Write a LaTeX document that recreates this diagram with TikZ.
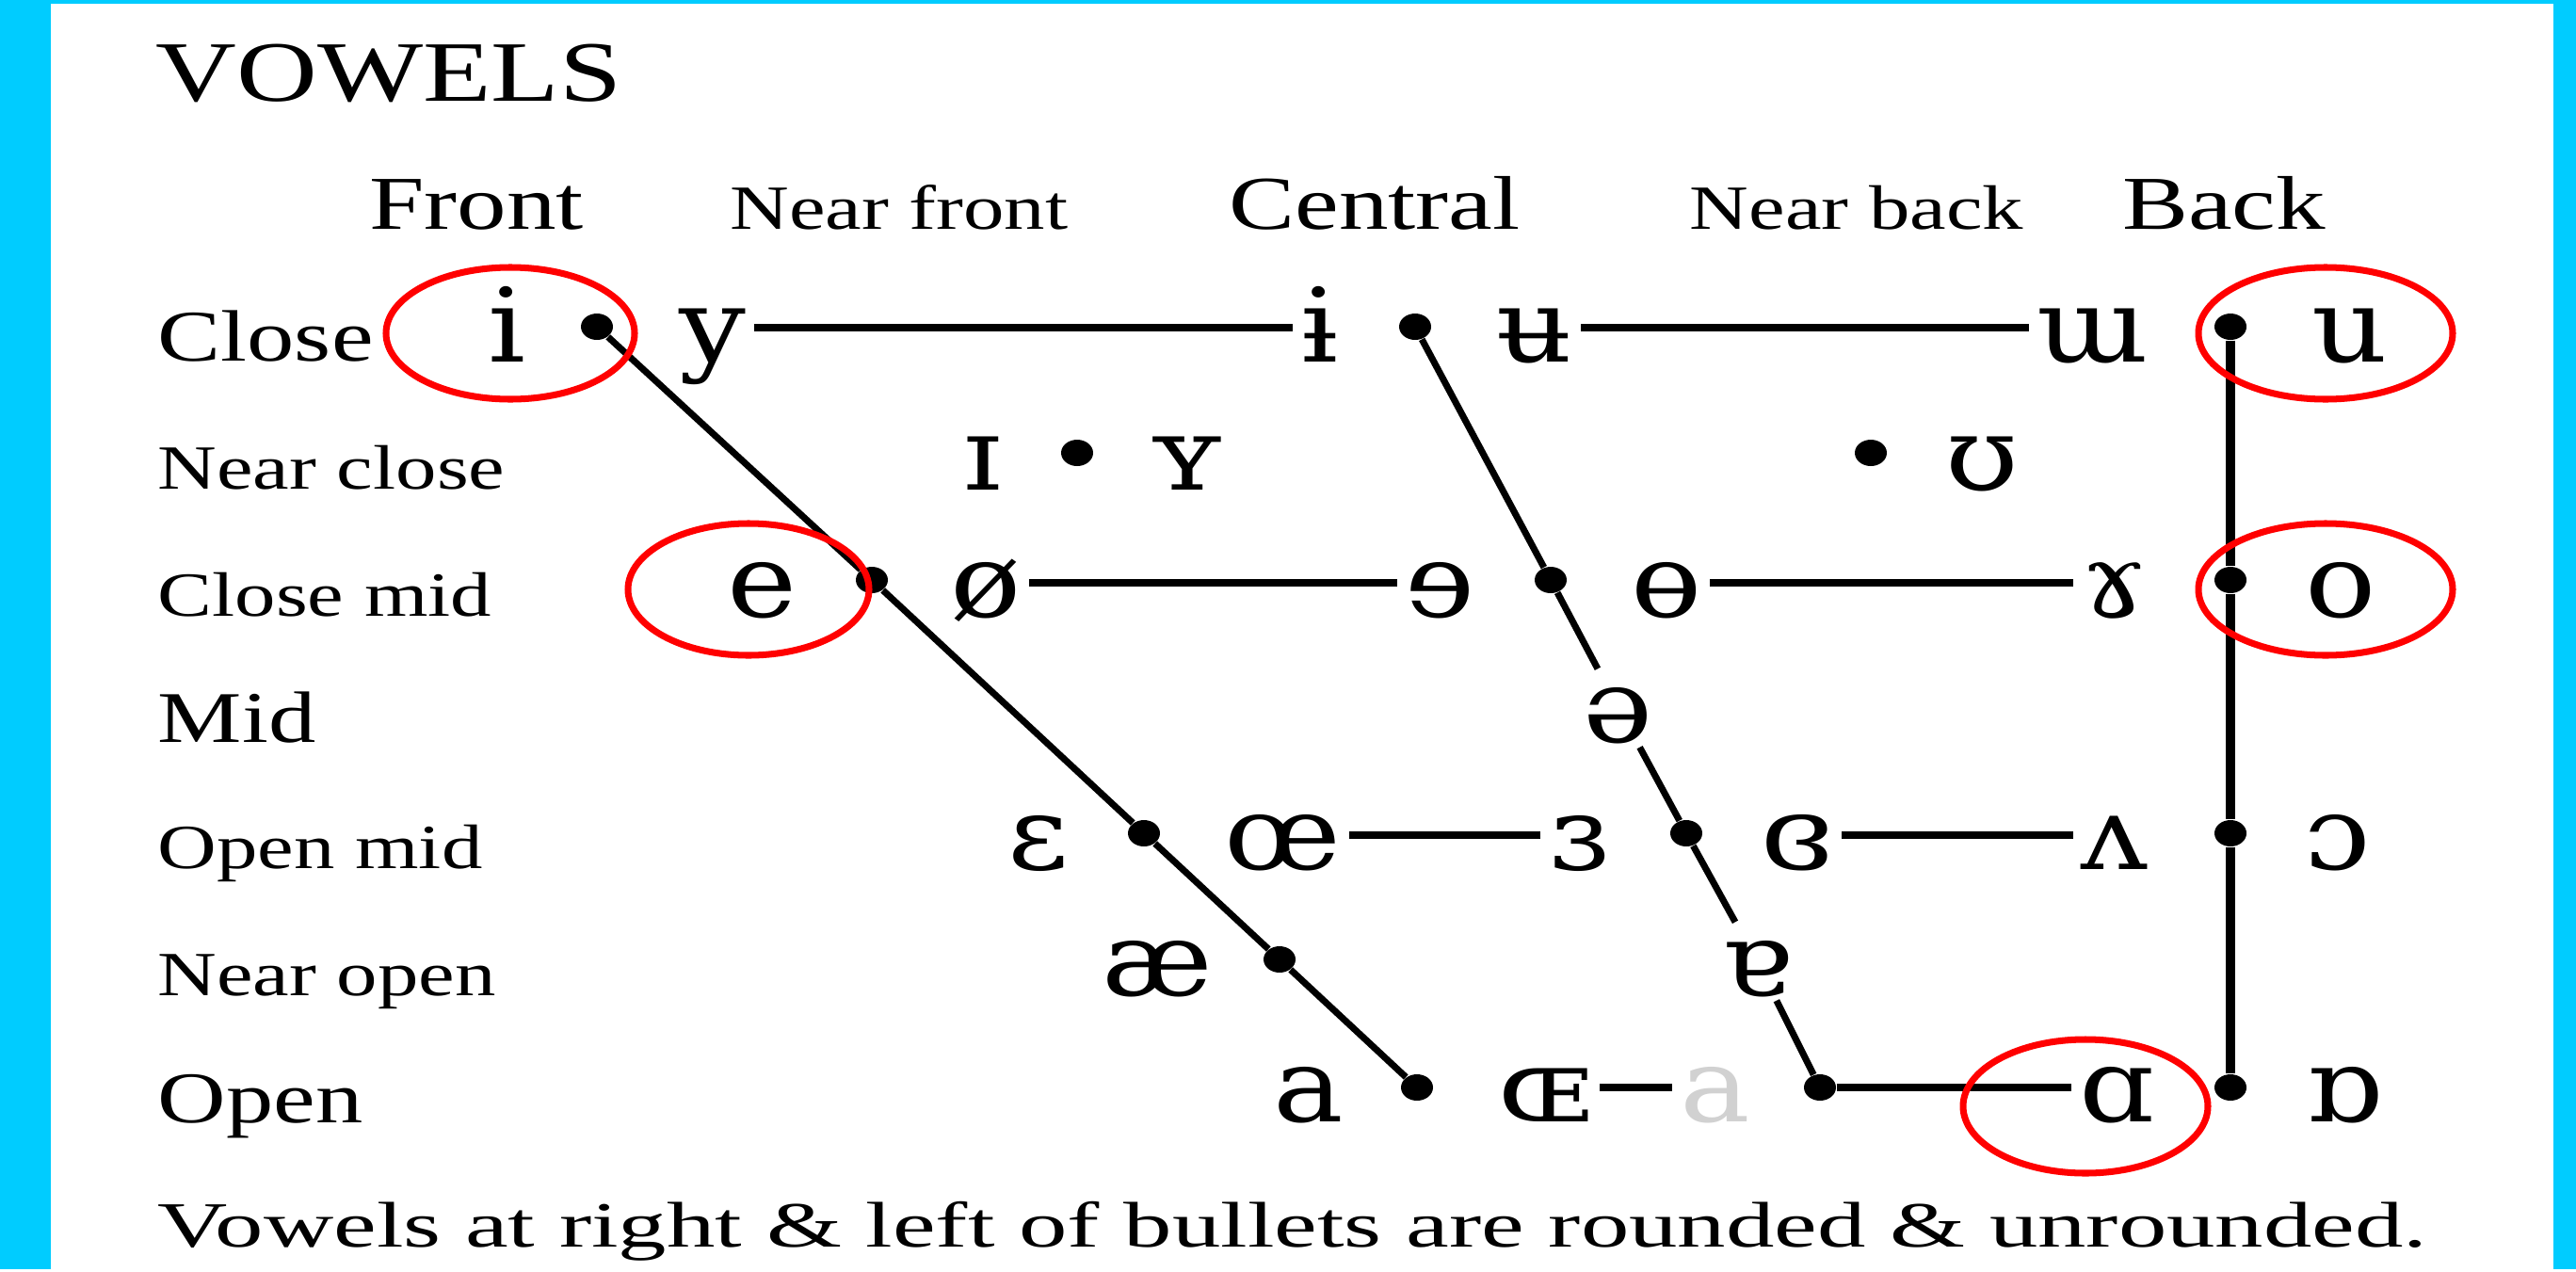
\documentclass[tikz,border=0pt]{standalone}
\usepackage{fontspec}
\setmainfont[FakeStretch=1.3]{Liberation Serif}
\newfontfamily\ipafont[FakeStretch=1.15]{DejaVu Serif}
\newfontfamily\notefont[FakeStretch=1.5]{Liberation Serif}
\usepackage{tikz}
\usetikzlibrary{shapes,positioning,calc}
\definecolor{framecyan}{RGB}{0,204,255}

\begin{document}
\begin{tikzpicture}[
    vowel/.style={font=\ipafont\fontsize{31}{31}\selectfont, text height=0.72cm, text depth=0cm, inner xsep=0.08cm, inner ysep=0.05cm},
    greyvowel/.style={vowel, text=black!18},
    blob/.style={ellipse, fill=black, inner sep=0pt, minimum width=0.34cm, minimum height=0.28cm},
    rowname/.style={anchor=base west, inner xsep=0pt, font=\fontsize{22}{22}\selectfont},
    rownamesmall/.style={anchor=base west, inner xsep=0pt, font=\fontsize{19}{19}\selectfont},
    colname/.style={anchor=base, font=\fontsize{23}{23}\selectfont},
    colnamesmall/.style={anchor=base, font=\fontsize{19}{19}\selectfont},
    link/.style={line width=2pt},
    backlink/.style={line width=3pt},
    ring/.style={draw=red, line width=2pt}
]

% Frame
\fill[framecyan] (0,0) rectangle (27.36,-13.48);
\fill[white] (0.54,-0.04) rectangle (27.12,-13.48);

% Title
\node[anchor=base west, inner xsep=0pt, font=\fontsize{26}{26}\selectfont] (title) at (1.65,-1.07) {VOWELS};

% Columns
\node[colname] (front) at (5.06,-2.43) {Front};
\node[colnamesmall] (nfront) at (9.55,-2.43) {Near front};
\node[colname] (central) at (14.60,-2.43) {Central};
\node[colnamesmall] (nback) at (19.72,-2.43) {Near back};
\node[colname] (back) at (23.62,-2.43) {Back};

% Rows
\node[rowname] (close) at (1.67,-3.83) {Close};
\node[rownamesmall] (nclose) at (1.67,-5.19) {Near close};
\node[rownamesmall] (cmid) at (1.67,-6.54) {Close mid};
\node[rowname] (mid) at (1.67,-7.88) {Mid};
\node[rownamesmall] (omid) at (1.67,-9.22) {Open mid};
\node[rownamesmall] (nopen) at (1.67,-10.57) {Near open};
\node[rowname] (open) at (1.67,-11.92) {Open};

% Close
\node[vowel] (vi) at (5.39,-3.48) {i};
\node[blob] (b11) at (6.34,-3.47) {};
\node[vowel] (vy) at (7.57,-3.48) {y};
\node[vowel] (vbari) at (14.02,-3.48) {ɨ};
\node[blob] (b14) at (15.03,-3.47) {};
\node[vowel] (vbaru) at (16.30,-3.48) {ʉ};
\node[vowel] (vturnm) at (22.23,-3.48) {ɯ};
\node[blob] (b17) at (23.69,-3.47) {};
\node[vowel] (vu) at (24.96,-3.48) {u};

% Near close
\node[vowel] (vsmalli) at (10.44,-4.84) {ɪ};
\node[blob] (b22) at (11.44,-4.81) {};
\node[vowel] (vsmally) at (12.61,-4.84) {ʏ};
\node[blob] (b26) at (19.87,-4.81) {};
\node[vowel] (vupsilon) at (21.05,-4.84) {ʊ};

% Close mid
\node[vowel] (ve) at (8.10,-6.19) {e};
\node[blob] (b31) at (9.26,-6.16) {};
\node[vowel] (voslash) at (10.47,-6.19) {ø};
\node[vowel] (vreve) at (15.30,-6.19) {ɘ};
\node[blob] (b34) at (16.47,-6.16) {};
\node[vowel] (vbaro) at (17.70,-6.19) {ɵ};
\node[vowel] (vramshorn) at (22.46,-6.19) {ɤ};
\node[blob] (b37) at (23.69,-6.16) {};
\node[vowel] (vo) at (24.86,-6.19) {o};

% Mid
\node[vowel] (vschwa) at (17.19,-7.52) {ə};

% Open mid
\node[vowel] (veps) at (11.03,-8.87) {ɛ};
\node[blob] (b51) at (12.15,-8.85) {};
\node[vowel] (voe) at (13.62,-8.87) {œ};
\node[vowel] (vreveps) at (16.77,-8.87) {ɜ};
\node[blob] (b54) at (17.91,-8.85) {};
\node[vowel] (vclrev) at (19.09,-8.87) {ɞ};
\node[vowel] (vturnv) at (22.46,-8.87) {ʌ};
\node[blob] (b57) at (23.69,-8.85) {};
\node[vowel] (vopeno) at (24.83,-8.87) {ɔ};

% Near open
\node[vowel] (vash) at (12.29,-10.21) {æ};
\node[blob] (b61) at (13.59,-10.19) {};
\node[vowel] (vturna) at (18.66,-10.21) {ɐ};

% Open
\node[vowel] (va) at (13.90,-11.55) {a};
\node[blob] (b71) at (15.05,-11.55) {};
\node[vowel] (vsmalloe) at (16.41,-11.55) {ɶ};
\node[greyvowel] (vgreya) at (18.22,-11.55) {a};
\node[blob] (b74) at (19.33,-11.55) {};
\node[vowel] (valpha) at (22.49,-11.55) {ɑ};
\node[blob] (b77) at (23.69,-11.55) {};
\node[vowel] (vturnalpha) at (24.90,-11.55) {ɒ};

% Lines
\draw[link] (vy) -- (vbari);
\draw[link] (vbaru) -- (vturnm);
\draw[link] (voslash) -- (vreve);
\draw[link] (vbaro) -- (vramshorn);
\draw[link] (voe) -- (vreveps);
\draw[link] (vclrev) -- (vturnv);
\draw[link] (vsmalloe) -- (vgreya);
\draw[link] (b74) -- (valpha);

\draw[link] (b11) -- (b31) -- (b51) -- (b61) -- (b71);
\draw[link] (b14) -- (b34) -- (vschwa) -- (b54) -- (vturna) -- (b74);
\draw[backlink] (b17) -- (b37) -- (b57) -- (b77);

% Marked vowels
\draw[ring] (5.42,-3.54) ellipse [x radius=1.32, y radius=0.70];
\draw[ring] (24.70,-3.54) ellipse [x radius=1.35, y radius=0.70];
\draw[ring] (7.95,-6.26) ellipse [x radius=1.28, y radius=0.70];
\draw[ring] (24.70,-6.26) ellipse [x radius=1.35, y radius=0.70];
\draw[ring] (22.15,-11.75) ellipse [x radius=1.30, y radius=0.71];

% Note
\node[anchor=base west, inner xsep=0pt, font=\notefont\fontsize{19.5}{19.5}\selectfont] (note) at (1.67,-13.24) {Vowels at right \& left of bullets are rounded \& unrounded.};

\end{tikzpicture}
\end{document}
